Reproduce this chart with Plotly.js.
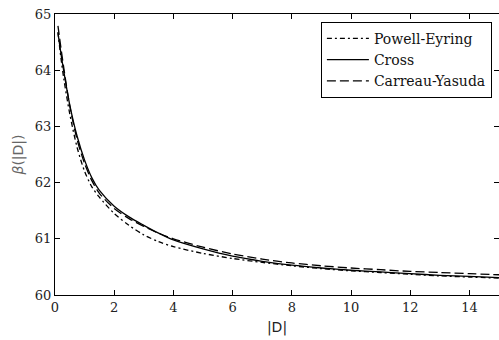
<!DOCTYPE html>
<html>
<head>
<meta charset="utf-8">
<script src="https://cdn.plot.ly/plotly-3.0.1.min.js"></script>
<style>html,body{margin:0;padding:0;background:#fff;}#chart{width:499px;height:340px;}</style>
</head>
<body>
<div id="chart"></div>
<script>
var xValues = [0.1, 0.2, 0.3, 0.5, 0.75, 1.0, 1.25, 1.5, 2.0, 2.5, 3.0, 3.5, 4.0, 5, 6, 7, 8, 9, 10, 11, 12, 13, 14, 15];
var powellEyring = [64.68, 64.22, 63.84, 63.22, 62.62, 62.20, 61.92, 61.74, 61.45, 61.24, 61.07, 60.95, 60.86, 60.74, 60.65, 60.58, 60.52, 60.47, 60.43, 60.40, 60.37, 60.34, 60.32, 60.30];
var cross = [64.66, 64.30, 63.97, 63.38, 62.82, 62.40, 62.08, 61.86, 61.58, 61.39, 61.24, 61.10, 60.98, 60.82, 60.69, 60.60, 60.53, 60.48, 60.44, 60.41, 60.38, 60.35, 60.33, 60.31];
var carreauYasuda = [64.79, 64.40, 64.03, 63.36, 62.76, 62.34, 62.03, 61.81, 61.54, 61.36, 61.22, 61.10, 61.00, 60.85, 60.73, 60.64, 60.57, 60.52, 60.48, 60.45, 60.42, 60.40, 60.38, 60.36];
var seriesNames = ['Powell-Eyring', 'Cross', 'Carreau-Yasuda'];
var xTicks = [0, 2, 4, 6, 8, 10, 12, 14];
var yTicks = [60, 61, 62, 63, 64, 65];

var serif = '"DejaVu Serif", serif';
var traces = [
  {x: xValues, y: powellEyring, name: seriesNames[0], mode: 'lines', line: {color: '#000', width: 1.3, dash: '5px,3px,2px,3px', shape: 'spline', smoothing: 0.8}},
  {x: xValues, y: cross, name: seriesNames[1], mode: 'lines', line: {color: '#000', width: 1.3, shape: 'spline', smoothing: 0.8}},
  {x: xValues, y: carreauYasuda, name: seriesNames[2], mode: 'lines', line: {color: '#000', width: 1.3, dash: '9px,4px', shape: 'spline', smoothing: 0.8}}
];
var axisCommon = {
  showgrid: false, zeroline: false, showline: true, linecolor: '#000', linewidth: 1,
  mirror: 'ticks', ticks: 'inside', ticklen: 5, tickwidth: 1, tickcolor: '#000',
  tickfont: {family: serif, size: 13, color: '#222'}
};
var layout = {
  width: 499, height: 340,
  margin: {l: 55, r: 0, t: 14, b: 45},
  paper_bgcolor: '#fff', plot_bgcolor: '#fff',
  showlegend: true,
  legend: {
    x: 0.984, y: 0.972, xanchor: 'right', yanchor: 'top',
    bgcolor: '#fff', bordercolor: '#000', borderwidth: 1,
    font: {family: serif, size: 14, color: '#111'},
    itemwidth: 42
  },
  xaxis: Object.assign({}, axisCommon, {
    range: [0, 15], tickvals: xTicks, ticktext: xTicks.map(String),
    title: {text: '|D|', font: {family: '"DejaVu Sans", sans-serif', size: 14, color: '#222'}, standoff: 8}
  }),
  yaxis: Object.assign({}, axisCommon, {
    range: [60, 65], tickvals: yTicks, ticktext: yTicks.map(String),
    title: {text: '<i>β</i>(|D|)', font: {family: '"DejaVu Sans", sans-serif', size: 14, color: '#666'}, standoff: 7}
  })
};
Plotly.newPlot('chart', traces, layout, {displayModeBar: false, staticPlot: true});
</script>
</body>
</html>
